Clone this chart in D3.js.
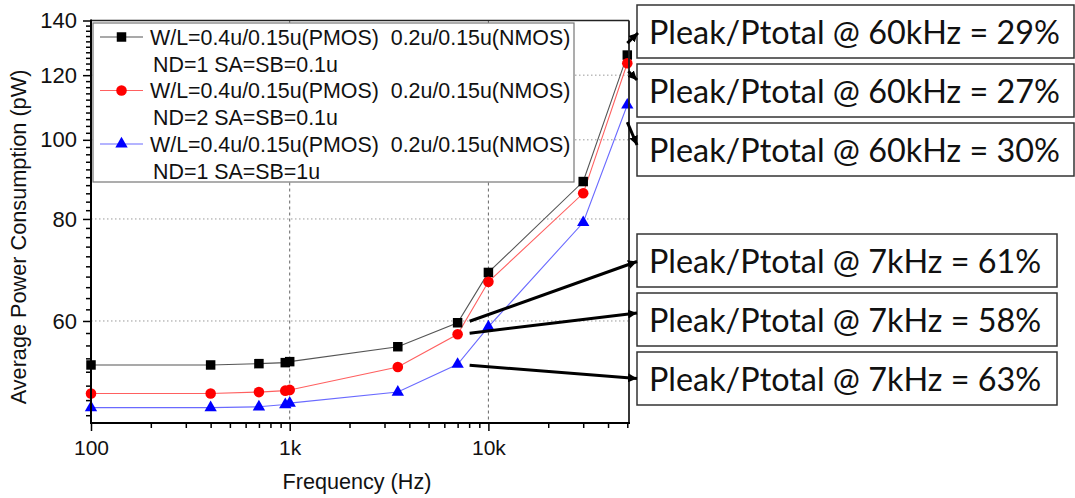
<!DOCTYPE html>
<html>
<head>
<meta charset="utf-8">
<script src="https://cdn.jsdelivr.net/npm/d3@7"></script>
<style>
  html, body { margin: 0; padding: 0; background: #fff; }
  svg { display: block; }
</style>
</head>
<body>
<svg id="chart" width="1075" height="498"></svg>
<script>
// Measured average power (pW) versus switching frequency (Hz)
const frequencies = [100, 400, 700, 950, 1000, 3500, 7000, 10000, 30000, 50000];
const powerND1SA01 = [53.0, 53.0, 53.2, 53.35, 53.5, 55.8, 59.7, 68.8, 88.9, 127.0];
const powerND2SA01 = [48.9, 48.9, 49.1, 49.3, 49.4, 52.7, 57.8, 67.0, 86.0, 124.1];
const powerND1SA1 = [47.0, 47.0, 47.1, 47.4, 47.6, 49.1, 53.1, 59.0, 79.2, 110.3];

const legendSizing = "W/L=0.4u/0.15u(PMOS)  0.2u/0.15u(NMOS)";
const legendLayout = ["ND=1 SA=SB=0.1u", "ND=2 SA=SB=0.1u", "ND=1 SA=SB=1u"];

const xTickValues = [100, 1000, 10000];
const xTickLabels = ["100", "1k", "10k"];
const yTickValues = [60, 80, 100, 120, 140];

const ratioAt60k = ["Pleak/Ptotal @ 60kHz = 29%", "Pleak/Ptotal @ 60kHz = 27%", "Pleak/Ptotal @ 60kHz = 30%"];
const ratioAt7k = ["Pleak/Ptotal @ 7kHz = 61%", "Pleak/Ptotal @ 7kHz = 58%", "Pleak/Ptotal @ 7kHz = 63%"];

const series = [
  { values: powerND1SA01, line: "#555555", fill: "#000000", shape: "square", layout: legendLayout[0] },
  { values: powerND2SA01, line: "#ff6060", fill: "#ff0000", shape: "circle", layout: legendLayout[1] },
  { values: powerND1SA1,  line: "#6a6aff", fill: "#0000ff", shape: "triangle", layout: legendLayout[2] }
];

const svg = d3.select("#chart");
const plotL = 91, plotR = 629, plotT = 20.5, plotB = 423;
const axisFont = "'Liberation Sans', Arial, sans-serif";

const x = d3.scaleLog().domain([100, 51000]).range([plotL, plotR]);
const y = d3.scaleLog().domain([45, 140]).range([plotB, plotT]);

// Grid: dotted horizontals, dashed verticals
svg.append("g").selectAll("line").data(yTickValues.filter(v => v < 140)).join("line")
  .attr("x1", plotL).attr("x2", plotR)
  .attr("y1", d => y(d)).attr("y2", d => y(d))
  .attr("stroke", "#9a9a9a").attr("stroke-width", 1).attr("stroke-dasharray", "1.5,2.5");
svg.append("g").selectAll("line").data(xTickValues.filter(v => v > 100)).join("line")
  .attr("x1", d => x(d)).attr("x2", d => x(d))
  .attr("y1", plotT).attr("y2", plotB)
  .attr("stroke", "#666").attr("stroke-width", 1).attr("stroke-dasharray", "3,3");

// Legend box (drawn over the grid)
const legend = svg.append("g");
legend.append("rect").attr("x", 93).attr("y", 23).attr("width", 481).attr("height", 159)
  .attr("fill", "#fff").attr("stroke", "#777").attr("stroke-width", 1.2);

function drawMarker(sel, shape, color) {
  if (shape === "circle") {
    sel.append("circle").attr("r", 5.3).attr("fill", color);
  } else if (shape === "square") {
    sel.append("path").attr("d", d3.symbol(d3.symbolSquare, 90)()).attr("fill", color);
  } else {
    sel.append("path").attr("d", d3.symbol(d3.symbolTriangle, 66)()).attr("fill", color);
  }
}

const legendFontSize = 21.4;
series.forEach((s, i) => {
  const cy = 37 + i * 53.5;
  legend.append("line").attr("x1", 100).attr("x2", 143).attr("y1", cy).attr("y2", cy)
    .attr("stroke", s.line).attr("stroke-width", 1.2);
  drawMarker(legend.append("g").attr("transform", `translate(121.5,${cy})`), s.shape, s.fill);
  legend.append("text").attr("x", 150).attr("y", cy + 7.8)
    .attr("font-family", axisFont).attr("font-size", legendFontSize).attr("fill", "#111")
    .style("white-space", "pre")
    .text(legendSizing);
  legend.append("text").attr("x", 153).attr("y", cy + 26.7 + 7.8)
    .attr("font-family", axisFont).attr("font-size", legendFontSize).attr("fill", "#111")
    .text(s.layout);
});

// Series lines and markers
const lineGen = d3.line().x(d => x(d[0])).y(d => y(d[1]));
series.forEach(s => {
  const pts = frequencies.map((f, i) => [f, s.values[i]]);
  svg.append("path").datum(pts).attr("d", lineGen)
    .attr("fill", "none").attr("stroke", s.line).attr("stroke-width", 1.1);
});
series.forEach(s => {
  frequencies.forEach((f, i) => {
    drawMarker(svg.append("g").attr("transform", `translate(${x(f)},${y(s.values[i])})`), s.shape, s.fill);
  });
});

// Frame (top and right)
svg.append("line").attr("x1", plotL).attr("x2", plotR).attr("y1", plotT).attr("y2", plotT)
  .attr("stroke", "#222").attr("stroke-width", 1.5);
svg.append("line").attr("x1", plotR).attr("x2", plotR).attr("y1", plotT).attr("y2", plotB)
  .attr("stroke", "#222").attr("stroke-width", 1.8);

// Minor tick values
const xMinor = [];
[100, 1000, 10000].forEach(dec => { for (let m = 2; m <= 9; m++) { const v = m * dec; if (v <= 51000) xMinor.push(v); } });
const yMinor = d3.range(46, 140, 2).filter(v => !yTickValues.includes(v));

// X axis
const gx = svg.append("g").attr("transform", `translate(0,${plotB})`);
gx.call(d3.axisBottom(x).tickValues(xTickValues).tickSize(8).tickSizeOuter(0)
  .tickFormat((d, i) => xTickLabels[i]));
gx.append("g").call(d3.axisBottom(x).tickValues(xMinor).tickSize(5).tickSizeOuter(0).tickFormat(""))
  .select(".domain").remove();
gx.select(".domain").attr("stroke", "#000").attr("stroke-width", 2).attr("d", `M${plotL - 1},0H${plotR + 1}`);
gx.selectAll(".tick line").attr("stroke", "#000").attr("stroke-width", 1.5);
gx.selectAll(".tick text").attr("font-family", axisFont).attr("font-size", 21).attr("fill", "#111").attr("dy", "1.0em");

// Y axis
const gy = svg.append("g").attr("transform", `translate(${plotL},0)`);
gy.call(d3.axisLeft(y).tickValues(yTickValues).tickSize(8).tickSizeOuter(0).tickFormat(d3.format("d")));
gy.append("g").call(d3.axisLeft(y).tickValues(yMinor).tickSize(5).tickSizeOuter(0).tickFormat(""))
  .select(".domain").remove();
gy.select(".domain").attr("stroke", "#000").attr("stroke-width", 2).attr("d", `M0,${plotB + 1}V${plotT - 1}`);
gy.selectAll(".tick line").attr("stroke", "#000").attr("stroke-width", 1.5);
gy.selectAll(".tick text").attr("font-family", axisFont).attr("font-size", 22).attr("fill", "#111").attr("x", -14);

// Axis titles
svg.append("text").attr("x", 357).attr("y", 489).attr("text-anchor", "middle")
  .attr("font-family", axisFont).attr("font-size", 21.6).attr("fill", "#111").text("Frequency (Hz)");
svg.append("text").attr("transform", "translate(26,237) rotate(-90)").attr("text-anchor", "middle")
  .attr("font-family", axisFont).attr("font-size", 21.7).attr("fill", "#111").text("Average Power Consumption (pW)");

// Annotation boxes
const boxFont = "Lato, 'Open Sans', sans-serif";
const boxes = [
  ...ratioAt60k.map((t, i) => ({ text: t, x: 637, y: 5 + i * 59, w: 437 })),
  ...ratioAt7k.map((t, i) => ({ text: t, x: 637, y: 234 + i * 59, w: 420 }))
];
const boxG = svg.append("g");
boxG.selectAll("rect").data(boxes).join("rect")
  .attr("x", d => d.x).attr("y", d => d.y).attr("width", d => d.w).attr("height", 53)
  .attr("fill", "#fff").attr("stroke", "#333").attr("stroke-width", 1.5);
const boxTexts = boxG.selectAll("text").data(boxes).join("text")
  .attr("x", d => d.x + 12).attr("y", d => d.y + 39)
  .attr("font-family", boxFont).attr("font-size", 30).attr("fill", "#111")
  .text(d => d.text);
// Fit the font so the longest label spans its box
const measured = boxTexts.nodes()[0].getComputedTextLength();
if (measured > 0) boxTexts.attr("font-size", 30 * 411 / measured);

// Arrows from the curves to the boxes
const defs = svg.append("defs");
defs.append("marker").attr("id", "head").attr("viewBox", "0 0 10 10")
  .attr("refX", 10).attr("refY", 5).attr("markerWidth", 9).attr("markerHeight", 9)
  .attr("markerUnits", "userSpaceOnUse").attr("orient", "auto")
  .append("path").attr("d", "M0,0L10,5L0,10Z").attr("fill", "#000");

const hiIdx = frequencies.indexOf(50000);
const midIdx = frequencies.indexOf(7000);
const arrows = [
  { x1: x(frequencies[hiIdx]), y1: y(series[0].values[hiIdx]) - 12, x2: 638, y2: boxes[0].y + 28 },
  { x1: x(frequencies[hiIdx]) + 1, y1: y(series[1].values[hiIdx]) + 8, x2: 637, y2: boxes[1].y + 16 },
  { x1: x(frequencies[hiIdx]), y1: y(series[2].values[hiIdx]) + 17, x2: 637, y2: boxes[2].y + 22 },
  { x1: x(frequencies[midIdx]) + 12, y1: y(series[0].values[midIdx]) - 1.5, x2: 637, y2: boxes[3].y + 27.5 },
  { x1: x(frequencies[midIdx]) + 12, y1: y(series[1].values[midIdx]) - 1, x2: 637, y2: boxes[4].y + 20 },
  { x1: x(frequencies[midIdx]) + 12, y1: y(series[2].values[midIdx]) + 1, x2: 637, y2: boxes[5].y + 26.5 }
];
svg.append("g").selectAll("line").data(arrows).join("line")
  .attr("x1", d => d.x1).attr("y1", d => d.y1).attr("x2", d => d.x2).attr("y2", d => d.y2)
  .attr("stroke", "#000").attr("stroke-width", 3).attr("marker-end", "url(#head)");
</script>
</body>
</html>
